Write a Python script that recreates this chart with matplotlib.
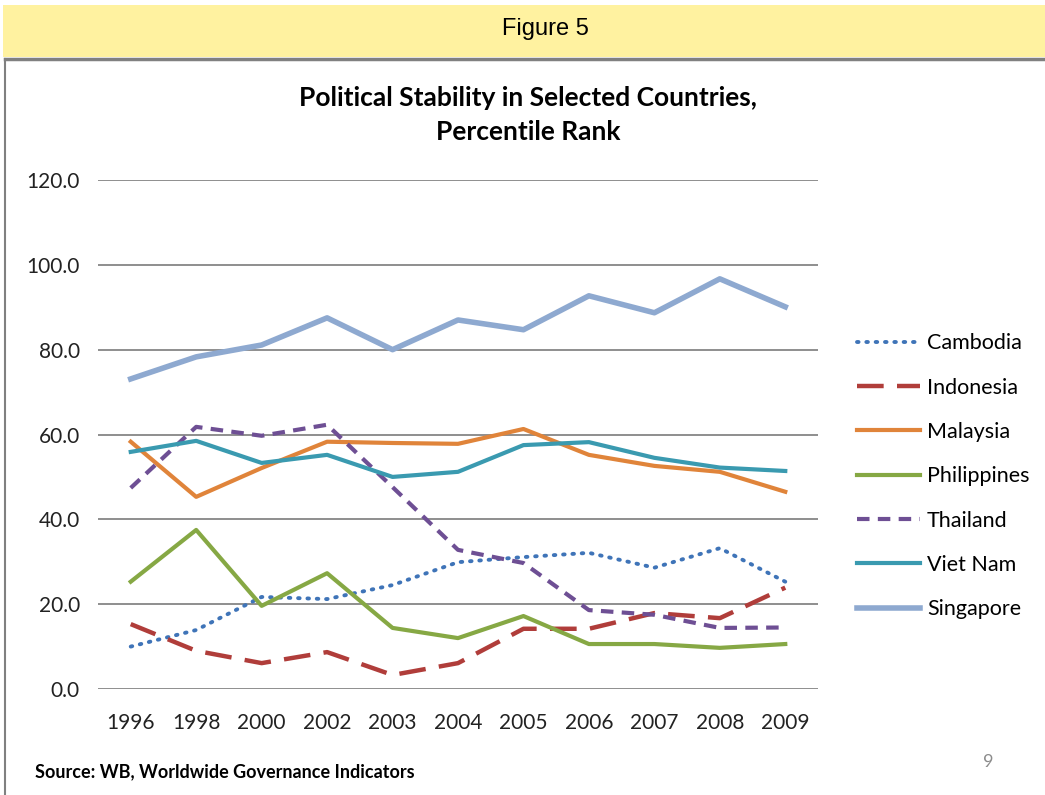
import numpy as np
import matplotlib
matplotlib.use('Agg')
import matplotlib.pyplot as plt
from matplotlib.patches import Rectangle
from matplotlib.lines import Line2D

# =============================================================================
# Data
# =============================================================================
years = ['1996', '1998', '2000', '2002', '2003', '2004', '2005', '2006', '2007', '2008', '2009']

cambodia    = [10.0, 13.9, 21.7, 21.2, 24.5, 29.9, 31.1, 32.1, 28.6, 33.2, 25.3]
indonesia   = [15.3, 9.0, 6.1, 8.7, 3.3, 6.1, 14.2, 14.2, 17.9, 16.7, 23.9]
malaysia    = [58.3, 45.3, 52.1, 58.3, 58.0, 57.8, 61.3, 55.2, 52.6, 51.2, 46.5]
philippines = [25.3, 37.5, 19.6, 27.3, 14.4, 12.0, 17.2, 10.6, 10.6, 9.7, 10.6]
thailand    = [47.4, 61.8, 59.7, 62.3, 47.6, 32.8, 29.7, 18.6, 17.5, 14.4, 14.5]
vietnam     = [55.9, 58.5, 53.3, 55.2, 50.0, 51.2, 57.5, 58.2, 54.5, 52.2, 51.4]
singapore   = [73.1, 78.3, 81.1, 87.5, 80.0, 87.0, 84.7, 92.7, 88.7, 96.7, 90.1]

yticks = [0, 20, 40, 60, 80, 100, 120]

# =============================================================================
# Figure
# =============================================================================
font = 'Lato'
W, H = 1045, 795
fig = plt.figure(figsize=(W/100, H/100), dpi=100)

# yellow banner and frame
fig.patches.append(Rectangle((3/W, 1-57/H), 1042/W, 52/H, transform=fig.transFigure,
                             facecolor='#FFF2A0', edgecolor='none', zorder=0))
fig.add_artist(Line2D([5/W, 1], [1-59/H, 1-59/H], transform=fig.transFigure,
                      color='#808080', lw=2.5))
fig.add_artist(Line2D([5/W, 5/W], [1-59/H, 0], transform=fig.transFigure,
                      color='#808080', lw=1.5))
fig.text(545/W, 1-29/H, 'Figure 5', ha='center', va='center',
         fontsize=17, family='Liberation Sans')

ax = fig.add_axes([98/W, 1-689/H, 720/W, 509/H])
x = np.arange(len(years))

ax.plot(x, cambodia, color='#3F74B8', lw=2.8, linestyle=(0, (0.4, 2.0)),
        dash_capstyle='round', label='Cambodia')
ax.plot(x, indonesia, color='#B03D3A', lw=3.2, linestyle=(0, (6, 3)), label='Indonesia')
ax.plot(x, malaysia, color='#E0843A', lw=3.0, label='Malaysia')
ax.plot(x, philippines, color='#86A844', lw=3.0, label='Philippines')
ax.plot(x, thailand, color='#6E4F94', lw=3.0, linestyle=(0, (3, 2)), label='Thailand')
ax.plot(x, vietnam, color='#3A9AB0', lw=3.0, label='Viet Nam')
ax.plot(x, singapore, color='#8EA9D0', lw=4.0, label='Singapore')

ax.set_xlim(-0.5, len(years) - 0.5)
ax.set_ylim(0, 120)
ax.set_xticks(x)
ax.set_xticklabels(years)
ax.set_yticks(yticks)
ax.set_yticklabels(['%.1f' % v for v in yticks])
ax.tick_params(length=0, labelsize=15, colors='#222222')
ax.tick_params(axis='x', pad=17)
ax.tick_params(axis='y', pad=13)
for lab in ax.get_xticklabels() + ax.get_yticklabels():
    lab.set_family(font)
ax.grid(axis='y', color='#868686', lw=1.3)
ax.set_axisbelow(True)
for s in ['top', 'right', 'left', 'bottom']:
    ax.spines[s].set_visible(False)

fig.text(528/W, 1-115/H, 'Political Stability in Selected Countries,\nPercentile Rank',
         ha='center', va='center', fontsize=19, fontweight='bold', family=font,
         linespacing=1.5)

leg = ax.legend(loc='upper left', bbox_to_anchor=((838-98)/720, 1 - (314-180)/509),
                frameon=False, handlelength=2.9, labelspacing=1.13,
                handletextpad=0.33, prop={'family': font, 'size': 15.5})

fig.text(35/W, 1-772/H, 'Source: WB, Worldwide Governance Indicators',
         ha='left', va='center', fontsize=13, fontweight='bold', family=font)
fig.text(988/W, 1-762/H, '9', ha='center', va='center', fontsize=13,
         color='#8C8C8C', family=font)

fig.savefig('out.png', dpi=100)
